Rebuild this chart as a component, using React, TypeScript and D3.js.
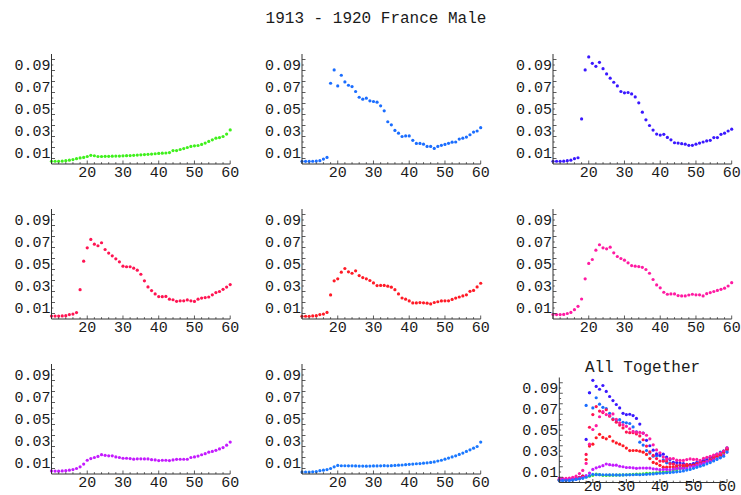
import React from "react";
import * as d3 from "d3";

const title = "1913 - 1920 France Male";
const allTitle = "All Together";
const ages = d3.range(10, 61);
const xTicks = [20, 30, 40, 50, 60];
const yTicks = [0.01, 0.03, 0.05, 0.07, 0.09];
const yTickLabels = ["0.01", "0.03", "0.05", "0.07", "0.09"];

const m1913 = [0.0025,0.0025,0.0025,0.0027,0.003,0.0035,0.004,0.0048,0.0055,0.006,0.0068,0.0079,0.0075,0.0068,0.0068,0.007,0.007,0.0071,0.0072,0.0072,0.0074,0.0076,0.0077,0.0079,0.0081,0.0083,0.0086,0.0088,0.009,0.0093,0.0096,0.0098,0.01,0.0104,0.0122,0.0122,0.0132,0.014,0.015,0.016,0.0165,0.0168,0.0178,0.019,0.0205,0.022,0.0235,0.024,0.025,0.0272,0.031];
const m1914 = [0.0024,0.0024,0.0024,0.0025,0.0027,0.003,0.0045,0.006,0.0734,0.0855,0.071,0.0807,0.0746,0.0716,0.0704,0.0659,0.0607,0.0589,0.0598,0.0574,0.0568,0.0562,0.0529,0.0483,0.0384,0.0356,0.0305,0.028,0.025,0.0255,0.0255,0.0215,0.0187,0.0187,0.018,0.016,0.016,0.0142,0.016,0.017,0.0178,0.0188,0.0198,0.02,0.0227,0.0235,0.0245,0.0266,0.029,0.030,0.033];
const m1915 = [0.0025,0.0025,0.0025,0.0026,0.003,0.0035,0.0048,0.0057,0.041,0.0855,0.0973,0.0915,0.0888,0.0924,0.0867,0.0819,0.078,0.0743,0.071,0.0659,0.0647,0.065,0.0637,0.061,0.0556,0.0471,0.0402,0.035,0.0308,0.0272,0.0263,0.027,0.0242,0.022,0.0193,0.019,0.0185,0.018,0.017,0.017,0.018,0.019,0.020,0.021,0.0215,0.024,0.024,0.027,0.028,0.030,0.0317];
const m1916 = [0.0027,0.0027,0.0027,0.0028,0.003,0.004,0.0045,0.0058,0.0267,0.0526,0.0647,0.0723,0.068,0.0666,0.0693,0.0632,0.0599,0.0574,0.0547,0.052,0.048,0.0475,0.0475,0.0462,0.0444,0.0407,0.0347,0.0292,0.0258,0.0228,0.0204,0.0203,0.0205,0.018,0.0175,0.0161,0.0165,0.0165,0.0173,0.0165,0.016,0.018,0.019,0.0195,0.020,0.022,0.024,0.025,0.027,0.029,0.0313];
const m1917 = [0.0025,0.0025,0.0025,0.0028,0.003,0.004,0.0045,0.006,0.0219,0.0347,0.0365,0.0426,0.0459,0.0429,0.0416,0.0438,0.0395,0.0377,0.0365,0.035,0.0328,0.0304,0.0305,0.0305,0.0298,0.0289,0.0267,0.0228,0.0191,0.018,0.0164,0.0146,0.0146,0.0149,0.0147,0.0144,0.0137,0.015,0.0157,0.0164,0.0165,0.0165,0.0178,0.019,0.020,0.021,0.022,0.0252,0.026,0.0292,0.0325];
const m1918 = [0.0042,0.004,0.004,0.0042,0.005,0.006,0.0085,0.0115,0.0182,0.0365,0.0505,0.0541,0.0626,0.0675,0.0647,0.0638,0.0653,0.0602,0.0568,0.055,0.0535,0.0511,0.0486,0.048,0.0477,0.047,0.045,0.0416,0.0359,0.031,0.0283,0.0243,0.0225,0.0228,0.0228,0.0213,0.021,0.021,0.0218,0.0225,0.022,0.022,0.021,0.023,0.024,0.025,0.026,0.027,0.028,0.030,0.033];
const m1919 = [0.0028,0.0027,0.0026,0.0028,0.003,0.0035,0.004,0.005,0.0065,0.009,0.0125,0.014,0.015,0.016,0.0176,0.017,0.0165,0.0165,0.0155,0.015,0.0143,0.0143,0.014,0.0135,0.0138,0.0138,0.0137,0.0137,0.013,0.0128,0.0122,0.0125,0.0125,0.0122,0.0128,0.0133,0.0134,0.0134,0.0134,0.015,0.0155,0.0163,0.0175,0.0185,0.0198,0.0205,0.0215,0.0228,0.024,0.0262,0.029];
const m1920 = [0.0018,0.0018,0.0018,0.002,0.0022,0.003,0.0035,0.004,0.005,0.0065,0.0078,0.0075,0.0075,0.0074,0.0074,0.0073,0.0072,0.0072,0.0071,0.0072,0.0073,0.0073,0.0074,0.0076,0.0074,0.0076,0.0078,0.008,0.0082,0.0085,0.0088,0.009,0.0093,0.0095,0.0098,0.0102,0.0105,0.011,0.0118,0.0125,0.0135,0.0145,0.0155,0.0165,0.0178,0.019,0.0205,0.022,0.0235,0.025,0.029];

const seriesList = [m1913, m1914, m1915, m1916, m1917, m1918, m1919, m1920];
const colors = ["#3ff01c", "#1a6dff", "#3a18ff", "#ff1452", "#ff1a26", "#ff1aa2", "#c41aff", "#1a78ff"];

const FONT = "'Liberation Mono', 'DejaVu Sans Mono', monospace";
const TXT = "#1a1a1a";
const AX = "#333";

type PanelProps = {
  x0: number; x1: number; yTop: number; yBot: number;
  series: number[][]; cols: string[]; labelGap?: number;
};

function Panel({ x0, x1, yTop, yBot, series, cols, labelGap = 13 }: PanelProps) {
  const xs = d3.scaleLinear().domain([10, 60]).range([x0, x1]);
  const ys = d3.scaleLinear().domain([0, 0.1]).range([yBot, yTop]);
  const xMinor = d3.range(10, 61, 2);
  const yMinor = d3.range(0.005, 0.1, 0.005);
  return (
    <g>
      {series.map((s, si) =>
        s.map((v, i) => (
          <circle key={si + "-" + i} cx={xs(ages[i])} cy={ys(v)} r={1.6} fill={cols[si]} />
        ))
      )}
      <line x1={x0} x2={x0} y1={yTop} y2={yBot} stroke={AX} strokeWidth={1} />
      <line x1={x0} x2={x1} y1={yBot} y2={yBot} stroke={AX} strokeWidth={1} />
      {xMinor.map((t) => (
        <line key={"xm" + t} x1={xs(t)} x2={xs(t)} y1={yBot} y2={yBot - (t % 10 === 0 ? 3.5 : 1.8)} stroke={AX} strokeWidth={0.8} />
      ))}
      {yMinor.map((t, i) => (
        <line key={"ym" + i} x1={x0} x2={x0 + ((i % 2 === 1) ? 1.8 : 3.5)} y1={ys(t)} y2={ys(t)} stroke={AX} strokeWidth={0.8} />
      ))}
      {xTicks.map((t) => (
        <text key={"xt" + t} x={xs(t)} y={yBot + labelGap} textAnchor="middle" fontFamily={FONT} fontSize={15} fill={TXT}>{t}</text>
      ))}
      {yTicks.map((t, i) => (
        <text key={"yt" + i} x={x0 - 1} y={ys(t) + 4.6} textAnchor="end" fontFamily={FONT} fontSize={15} fill={TXT}>{yTickLabels[i]}</text>
      ))}
    </g>
  );
}

export default function App() {
  const colX = [51.5, 302, 553];
  const w = 178.7;
  const rowBot = [164, 319, 474];
  const h = 110;
  return (
    <svg width={741} height={495} style={{ position: "absolute", left: 0, top: 0, background: "#fff" }}>
      <rect width={741} height={495} fill="#fff" />
      <text x={376} y={23} textAnchor="middle" fontFamily={FONT} fontSize={16} fill={TXT}>{title}</text>
      {seriesList.map((s, k) => {
        const c = k % 3, r = Math.floor(k / 3);
        return (
          <Panel key={k} x0={colX[c]} x1={colX[c] + w} yTop={rowBot[r] - h} yBot={rowBot[r]} series={[s]} cols={[colors[k]]} />
        );
      })}
      <text x={642.5} y={372} textAnchor="middle" fontFamily={FONT} fontSize={16} fill={TXT}>{allTitle}</text>
      <Panel x0={559.3} x1={727} yTop={377.5} yBot={482.5} series={seriesList} cols={colors} labelGap={8.5} />
    </svg>
  );
}
